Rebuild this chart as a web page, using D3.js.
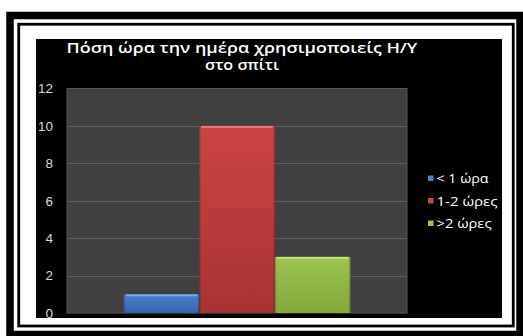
<!DOCTYPE html>
<html>
<head>
<meta charset="utf-8">
<script src="https://cdn.jsdelivr.net/npm/d3@7"></script>
<style>
  html, body { margin: 0; padding: 0; background: #ffffff; }
  svg { display: block; }
</style>
</head>
<body>
<script>
// Chart data
const categories = ["Ώρες"];
const seriesNames = ["< 1 ώρα", "1-2 ώρες", ">2 ώρες"];
const seriesValues = [1, 10, 3];
const seriesColors = ["#4a80cc", "#cc4444", "#9cc44f"];
const seriesDark = ["#3466ae", "#a83333", "#84a83c"];
const seriesLight = ["#7aa6e2", "#e77a7a", "#c2e07c"];
const yTicks = [0, 2, 4, 6, 8, 10, 12];
const titleLines = ["Πόση ώρα την ημέρα χρησιμοποιείς Η/Υ", "στο σπίτι"];
const titleWidths = [351, 74];
const legendWidths = [52, 61, 55];

const W = 523, H = 336;
const svg = d3.select("body").append("svg").attr("width", W).attr("height", H);
const defs = svg.append("defs");

// Double frame
svg.append("rect").attr("x", 0).attr("y", 0).attr("width", W).attr("height", H).attr("fill", "#ffffff");
svg.append("rect").attr("x", 10).attr("y", 15.5).attr("width", 510).attr("height", 319)
  .attr("fill", "none").attr("stroke", "#000").attr("stroke-width", 7.5);
svg.append("rect").attr("x", 18.75).attr("y", 24.25).attr("width", 494.5).attr("height", 301.75)
  .attr("fill", "none").attr("stroke", "#000").attr("stroke-width", 2.8);

// Chart area
const chart = { x: 36, y: 39, w: 466, h: 279 };
defs.append("clipPath").attr("id", "chartClip")
  .append("rect").attr("x", chart.x).attr("y", chart.y).attr("width", chart.w).attr("height", chart.h);
const g = svg.append("g").attr("clip-path", "url(#chartClip)");
g.append("rect").attr("x", chart.x).attr("y", chart.y).attr("width", chart.w).attr("height", chart.h).attr("fill", "#000");

// Plot area
const plot = { left: 67, right: 407, top: 88.5, bottom: 313 };
const y = d3.scaleLinear().domain([0, 12]).range([plot.bottom, plot.top]);
const x0 = d3.scaleBand().domain(categories).range([plot.left, plot.right]).paddingInner(0).paddingOuter(0.25);
const x1 = d3.scaleBand().domain(seriesNames).range([0, x0.bandwidth()]).padding(0);

g.append("rect").attr("x", plot.left).attr("y", plot.top)
  .attr("width", plot.right - plot.left).attr("height", plot.bottom - plot.top)
  .attr("fill", "#404040").attr("stroke", "#575757").attr("stroke-width", 1);

// Gridlines
g.append("g").selectAll("line").data(yTicks.filter(d => d > 0 && d < 12)).join("line")
  .attr("x1", plot.left).attr("x2", plot.right)
  .attr("y1", d => Math.round(y(d)) + 0.5).attr("y2", d => Math.round(y(d)) + 0.5)
  .attr("stroke", "#5e5e5e").attr("stroke-width", 1);

// Y axis labels
const yAxis = d3.axisLeft(y).tickValues(yTicks).tickSize(0).tickPadding(14);
const ya = g.append("g").attr("transform", `translate(${plot.left},0)`).call(yAxis);
ya.select(".domain").remove();
ya.selectAll("text").attr("fill", "#d9d9d9").attr("font-family", "Liberation Sans, Arial, sans-serif")
  .attr("font-size", 13.5);

// Bar gradients
seriesNames.forEach((s, i) => {
  const lg = defs.append("linearGradient").attr("id", "grad" + i).attr("x1", 0).attr("y1", 0).attr("x2", 0).attr("y2", 1);
  lg.append("stop").attr("offset", "0%").attr("stop-color", seriesColors[i]);
  lg.append("stop").attr("offset", "100%").attr("stop-color", seriesDark[i]);
  const hg = defs.append("linearGradient").attr("id", "edge" + i).attr("x1", 0).attr("y1", 0).attr("x2", 1).attr("y2", 0);
  hg.append("stop").attr("offset", "0%").attr("stop-color", "#000").attr("stop-opacity", 0.25);
  hg.append("stop").attr("offset", "3%").attr("stop-color", "#000").attr("stop-opacity", 0);
  hg.append("stop").attr("offset", "97%").attr("stop-color", "#000").attr("stop-opacity", 0);
  hg.append("stop").attr("offset", "100%").attr("stop-color", "#000").attr("stop-opacity", 0.25);
});

// Bars
const bars = g.append("g").selectAll("g").data(categories).join("g")
  .attr("transform", d => `translate(${x0(d)},0)`);
const barData = seriesNames.map((s, i) => ({ s, i, v: seriesValues[i] }));
bars.selectAll("rect.bar").data(barData).join("rect").attr("class", "bar")
  .attr("x", d => x1(d.s)).attr("width", x1.bandwidth())
  .attr("y", d => y(d.v)).attr("height", d => y(0) - y(d.v))
  .attr("fill", d => `url(#grad${d.i})`);
bars.selectAll("rect.edge").data(barData).join("rect").attr("class", "edge")
  .attr("x", d => x1(d.s)).attr("width", x1.bandwidth())
  .attr("y", d => y(d.v)).attr("height", d => y(0) - y(d.v))
  .attr("fill", d => `url(#edge${d.i})`);
bars.selectAll("rect.top").data(barData).join("rect").attr("class", "top")
  .attr("x", d => x1(d.s) + 2).attr("width", x1.bandwidth() - 4)
  .attr("y", d => y(d.v)).attr("height", 2)
  .attr("fill", d => seriesLight[d.i]);

// Title
g.append("g").selectAll("text").data(titleLines).join("text")
  .attr("x", 242).attr("y", (d, i) => 53 + i * 17)
  .attr("text-anchor", "middle").attr("fill", "#ffffff")
  .attr("font-family", "Open Sans, DejaVu Sans, sans-serif").attr("font-weight", 600).attr("font-size", 14.5)
  .attr("textLength", (d, i) => titleWidths[i]).attr("lengthAdjust", "spacingAndGlyphs")
  .text(d => d);

// Legend
const legend = g.append("g").selectAll("g").data(seriesNames).join("g")
  .attr("transform", (d, i) => `translate(428,${178 + i * 22.5})`);
legend.append("rect").attr("x", 0).attr("y", -2.5).attr("width", 5.5).attr("height", 5.5)
  .attr("fill", (d, i) => seriesColors[i]);
legend.append("text").attr("x", 8.5).attr("y", 5).attr("fill", "#ffffff")
  .attr("font-family", "Open Sans, DejaVu Sans, sans-serif").attr("font-size", 13)
  .attr("textLength", (d, i) => legendWidths[i]).attr("lengthAdjust", "spacingAndGlyphs")
  .text(d => d);
</script>
</body>
</html>
